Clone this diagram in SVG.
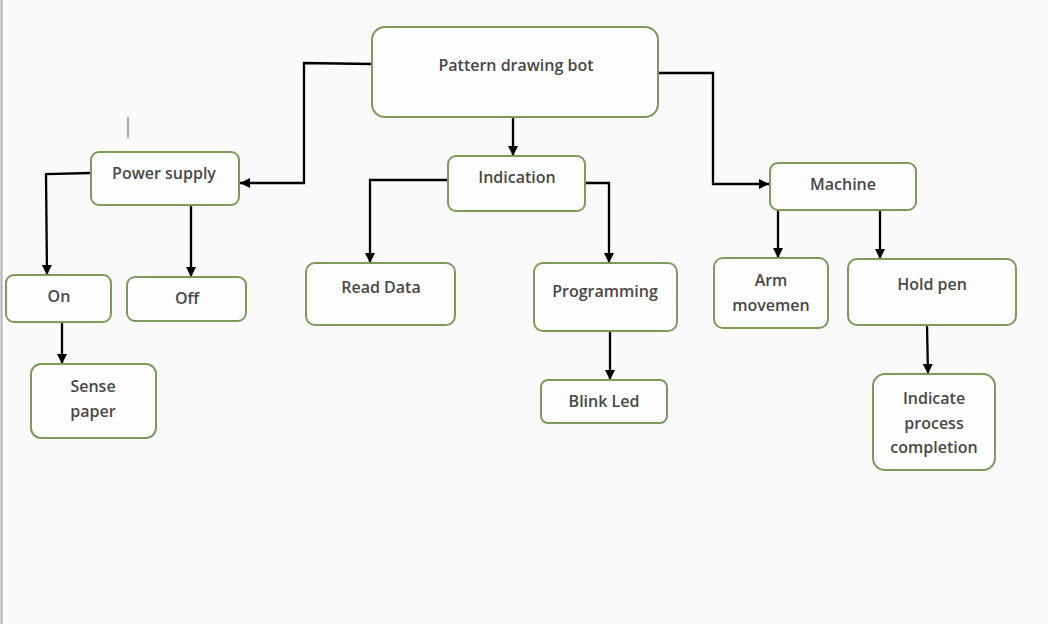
<svg xmlns="http://www.w3.org/2000/svg" width="1048" height="624" viewBox="0 0 1048 624">
<defs>
<style>
.box{fill:#fdfdfd;stroke:#7b9a5c;stroke-width:2}
.lbl{font-family:"Open Sans","Noto Sans",sans-serif;font-size:16px;font-weight:600;fill:#484848;text-anchor:middle}
.con{fill:none;stroke:#000;stroke-width:2.3}
</style>
<marker id="ah" viewBox="0 0 10 10" refX="10" refY="5" markerWidth="4.5" markerHeight="4.5" orient="auto" markerUnits="strokeWidth">
<path d="M0,0 L10,5 L0,10 z" fill="#000"/>
</marker>
</defs>
<rect x="0" y="0" width="1048" height="624" fill="#fafafa"/>
<line x1="1.5" y1="0" x2="1.5" y2="624" stroke="#b0b0b0" stroke-width="2"/>
<line x1="128" y1="117" x2="128" y2="138" stroke="#555" stroke-width="1"/>
<g id="connectors">
<path class="con" d="M372,64 L304,63 L304,183 L240,183" marker-end="url(#ah)"/>
<path class="con" d="M513,113 L513,156" marker-end="url(#ah)"/>
<path class="con" d="M658,73 L713,73 L713,184 L769,184" marker-end="url(#ah)"/>
<path class="con" d="M91,173 L46,174 L47,275" marker-end="url(#ah)"/>
<path class="con" d="M191,205 L191,277" marker-end="url(#ah)"/>
<path class="con" d="M62,322 L62,364" marker-end="url(#ah)"/>
<path class="con" d="M448,180 L370,180 L370,263" marker-end="url(#ah)"/>
<path class="con" d="M585,183 L609,183 L609,263" marker-end="url(#ah)"/>
<path class="con" d="M610,331 L610,380" marker-end="url(#ah)"/>
<path class="con" d="M778,210 L778,258" marker-end="url(#ah)"/>
<path class="con" d="M880,210 L880,259" marker-end="url(#ah)"/>
<path class="con" d="M927,325 L928,374" marker-end="url(#ah)"/>
</g>
<g id="n_bot"><rect class="box" x="372" y="27" width="286" height="90" rx="13"/><text class="lbl" x="516" y="71">Pattern drawing bot</text></g>
<g id="n_power"><rect class="box" x="91" y="152" width="148" height="53" rx="8"/><text class="lbl" x="164" y="179">Power supply</text></g>
<g id="n_indication"><rect class="box" x="448" y="156" width="137" height="55" rx="8"/><text class="lbl" x="517" y="183">Indication</text></g>
<g id="n_machine"><rect class="box" x="770" y="163" width="146" height="47" rx="8"/><text class="lbl" x="843" y="190">Machine</text></g>
<g id="n_on"><rect class="box" x="6" y="275" width="105" height="47" rx="8"/><text class="lbl" x="59" y="302">On</text></g>
<g id="n_off"><rect class="box" x="127" y="277" width="119" height="44" rx="8"/><text class="lbl" x="187" y="304">Off</text></g>
<g id="n_sense"><rect class="box" x="31" y="364" width="125" height="74" rx="10"/><text class="lbl" x="93" y="392">Sense</text><text class="lbl" x="93" y="417">paper</text></g>
<g id="n_read"><rect class="box" x="306" y="263" width="149" height="62" rx="9"/><text class="lbl" x="381" y="293">Read Data</text></g>
<g id="n_prog"><rect class="box" x="534" y="263" width="143" height="68" rx="9"/><text class="lbl" x="605" y="297">Programming</text></g>
<g id="n_blink"><rect class="box" x="541" y="380" width="126" height="43" rx="7"/><text class="lbl" x="604" y="407">Blink Led</text></g>
<g id="n_arm"><rect class="box" x="714" y="258" width="114" height="70" rx="9"/><text class="lbl" x="771" y="286">Arm</text><text class="lbl" x="771" y="311">movemen</text></g>
<g id="n_hold"><rect class="box" x="848" y="259" width="168" height="66" rx="9"/><text class="lbl" x="932" y="290">Hold pen</text></g>
<g id="n_indicate"><rect class="box" x="873" y="374" width="122" height="96" rx="12"/><text class="lbl" x="934" y="404">Indicate</text><text class="lbl" x="934" y="429">process</text><text class="lbl" x="934" y="453">completion</text></g>
</svg>
